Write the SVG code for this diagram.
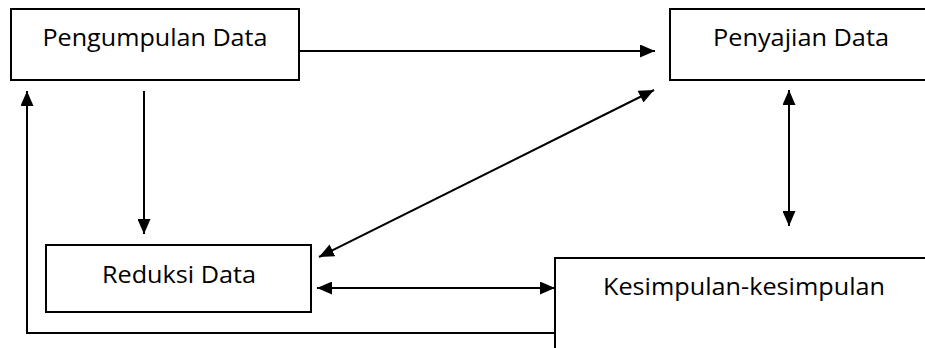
<svg xmlns="http://www.w3.org/2000/svg" width="925" height="348" viewBox="0 0 925 348">
<style>
.box{fill:#fff;stroke:#000;stroke-width:2}
.lbl{font-family:"Open Sans","Liberation Sans",sans-serif;font-size:23px;fill:#000;text-anchor:middle}
.ln{fill:none;stroke:#000;stroke-width:2}
</style>
<defs>
<marker id="ah" viewBox="0 0 15 13" refX="15" refY="6.5" markerWidth="15" markerHeight="13" markerUnits="userSpaceOnUse" orient="auto-start-reverse">
<path d="M0,0 L15,6.5 L0,13 Z" fill="#000"/>
</marker>
</defs>
<rect width="925" height="348" fill="#fff"/>
<g id="connectors">
<line class="ln" x1="299" y1="51" x2="655" y2="51" marker-end="url(#ah)"/>
<line class="ln" x1="144" y1="91" x2="144" y2="234" marker-end="url(#ah)"/>
<line class="ln" x1="319" y1="257" x2="654" y2="90" marker-start="url(#ah)" marker-end="url(#ah)"/>
<line class="ln" x1="789" y1="90" x2="789" y2="226" marker-start="url(#ah)" marker-end="url(#ah)"/>
<line class="ln" x1="317" y1="288" x2="555" y2="288" marker-start="url(#ah)" marker-end="url(#ah)"/>
<polyline class="ln" points="555,333 27,333 27,91" marker-end="url(#ah)"/>
</g>
<g id="node-pengumpulan">
<rect class="box" x="11" y="9" width="288" height="71"/>
<text class="lbl" x="155" y="46" textLength="225" lengthAdjust="spacingAndGlyphs">Pengumpulan Data</text>
</g>
<g id="node-penyajian">
<rect class="box" x="670" y="9" width="270" height="71"/>
<text class="lbl" x="801" y="46" textLength="176" lengthAdjust="spacingAndGlyphs">Penyajian Data</text>
</g>
<g id="node-reduksi">
<rect class="box" x="46" y="245" width="265" height="67"/>
<text class="lbl" x="179" y="283" textLength="154" lengthAdjust="spacingAndGlyphs">Reduksi Data</text>
</g>
<g id="node-kesimpulan">
<rect class="box" x="555" y="258" width="390" height="110"/>
<text class="lbl" x="744" y="295" textLength="282" lengthAdjust="spacingAndGlyphs">Kesimpulan-kesimpulan</text>
</g>
</svg>
